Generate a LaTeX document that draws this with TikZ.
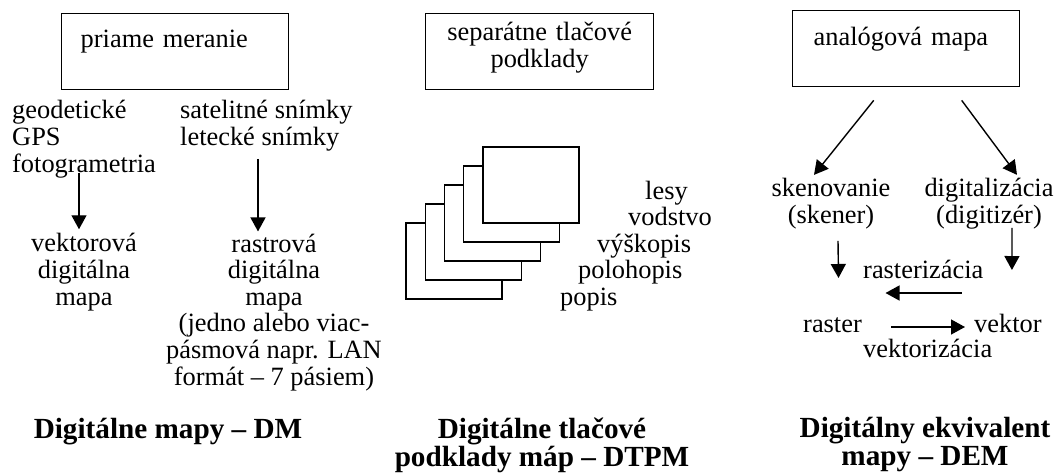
\documentclass[tikz,border=0pt]{standalone}
\usepackage{fontspec}
\setmainfont{Liberation Serif}
\usetikzlibrary{positioning,arrows.meta,calc}

\begin{document}
\begin{tikzpicture}[
  x=1pt, y=-1pt,
  txt/.style={inner sep=0pt, align=center, font=\fontsize{26.4}{26.6}\selectfont},
  box/.style={draw, line width=1.4pt, inner ysep=0pt, anchor=north west,
              font=\fontsize{26.4}{26.6}\selectfont},
  sheet/.style={draw, line width=1.4pt, fill=white, minimum width=96pt,
                minimum height=76pt, inner sep=0pt},
  title/.style={inner sep=0pt, align=center, font=\bfseries\fontsize{29.2}{27.5}\selectfont},
  arrow/.style={-{Triangle[length=14pt, width=15pt]}, line width=1.4pt}
]
  \useasboundingbox (0,0) rectangle (1060,475);

  % Digitalne mapy
  \node[box, inner xsep=19pt, text width=189pt, align=left, text height=34pt, text depth=42pt]
    (pm) at (61,13) {priame meranie};
  \node[txt, align=left, anchor=base west] (geo) at (12,172) {geodetické\\GPS\\fotogrametria};
  \node[txt, align=left, anchor=base west] (sat) at (180,145) {satelitné snímky\\letecké snímky};
  \node[txt, anchor=base] (vdm) at (84,305) {vektorová\\digitálna\\mapa};
  \node[txt, anchor=base] (rdm) at (274,385)
    {rastrová\\digitálna\\mapa\\(jedno alebo viac-\\pásmová napr. LAN\\formát -- 7 pásiem)};
  \node[title, anchor=base] (dm) at (168,438) {Digitálne mapy -- DM};

  \draw[arrow] ($(geo.south west)+(67,-5)$) -- ($(vdm.north)+(-5,-4)$);
  \draw[arrow] ($(sat.south west)+(78,8)$) -- ($(rdm.north)+(-16,-2)$);

  % Digitalne tlacove podklady
  \node[box, inner xsep=10pt, text width=208pt, align=center, text height=27pt, text depth=49pt]
    (stp) at (425,13) {separátne tlačové\\podklady};
  \foreach \i in {4,3,2,1,0}
    \node[sheet] (s\i) at (531-19.25*\i, 185+19*\i) {};
  \foreach \t/\x [count=\i] in {lesy/645, vodstvo/628, výškopis/597, polohopis/578, popis/560}
    \node[txt, anchor=base west] (v\i) at (\x, 172.5+26.5*\i) {\t};
  \node[title, anchor=base] (dtpm) at (542,466) {Digitálne tlačové\\podklady máp -- DTPM};

  % Digitalny ekvivalent mapy
  \node[box, inner xsep=21pt, text width=185pt, align=left, text height=35pt, text depth=41pt]
    (am) at (792,10) {analógová mapa};
  \node[txt, anchor=base] (sken) at (831,223) {skenovanie\\(skener)};
  \node[txt, anchor=base] (digi) at (989,223) {digitalizácia\\(digitizér)};
  \node[txt, anchor=base west] (rasz) at (863,278) {rasterizácia};
  \node[txt, anchor=base west] (raster) at (803,332) {raster};
  \node[txt, anchor=base west] (vektor) at (974,332) {vektor};
  \node[txt, anchor=base west] (vekz) at (863,357) {vektorizácia};
  \node[title, anchor=base] (dem) at (925,465) {Digitálny ekvivalent\\mapy -- DEM};

  \draw[arrow] ($(am.south)+(-32.5,13)$) -- ($(sken.north)+(-17,-3)$);
  \draw[arrow] ($(am.south)+(55.5,13)$) -- ($(digi.north)+(28,-3)$);
  \draw[arrow] ($(sken.south)+(7,12)$) -- ($(raster.base)+(6,-54)$);
  \draw[arrow] ($(digi.south)+(23,-1)$) -- ($(vektor.base)+(4,-62)$);
  \draw[arrow] ($(vektor.base)+(-46,-39)$) -- ($(raster.base)+(53,-39)$);
  \draw[arrow] ($(raster.base east)+(29,-5)$) -- ($(vektor.base west)+(-9,-5)$);
\end{tikzpicture}
\end{document}
